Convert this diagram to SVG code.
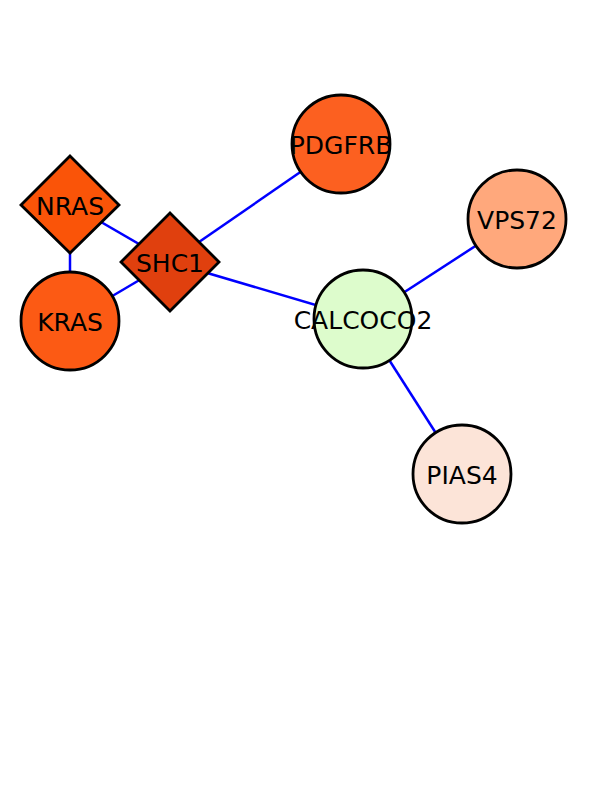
<svg xmlns="http://www.w3.org/2000/svg" width="612" height="792" viewBox="0 0 612 792">
<style>
.e{stroke:#0000ff;stroke-width:2.5;fill:none}
.n{stroke:#000;stroke-width:2.8}
.t{font-family:"DejaVu Sans","Liberation Sans",sans-serif;font-size:25px;text-anchor:middle;dominant-baseline:central;fill:#000}
</style>
<rect width="612" height="792" fill="#fff"/>
<g id="edges">
<line class="e" x1="70" y1="204" x2="170" y2="262"/>
<line class="e" x1="70" y1="204" x2="70" y2="321"/>
<line class="e" x1="70" y1="321" x2="170" y2="262"/>
<line class="e" x1="170" y1="262" x2="341" y2="144"/>
<line class="e" x1="170" y1="262" x2="363" y2="319"/>
<line class="e" x1="363" y1="319" x2="517" y2="219"/>
<line class="e" x1="363" y1="319" x2="462" y2="474"/>
</g>
<g id="NRAS"><polygon class="n" fill="#fa5408" points="70,156 119,205 70,253 21,205"/><text class="t" x="70" y="206">NRAS</text></g>
<g id="KRAS"><circle class="n" fill="#fc5a14" cx="70" cy="321" r="49"/><text class="t" x="70" y="322">KRAS</text></g>
<g id="SHC1"><polygon class="n" fill="#e0400e" points="170,213 219,262 170,311 121,262"/><text class="t" x="170" y="263">SHC1</text></g>
<g id="PDGFRB"><circle class="n" fill="#fc6020" cx="341" cy="144" r="49"/><text class="t" x="341" y="145">PDGFRB</text></g>
<g id="VPS72"><circle class="n" fill="#ffa87c" cx="517" cy="219" r="49"/><text class="t" x="517" y="220">VPS72</text></g>
<g id="CALCOCO2"><circle class="n" fill="#ddfccc" cx="363" cy="319" r="49"/><text class="t" x="363" y="320">CALCOCO2</text></g>
<g id="PIAS4"><circle class="n" fill="#fce4d8" cx="462" cy="474" r="49"/><text class="t" x="462" y="475">PIAS4</text></g>
</svg>
